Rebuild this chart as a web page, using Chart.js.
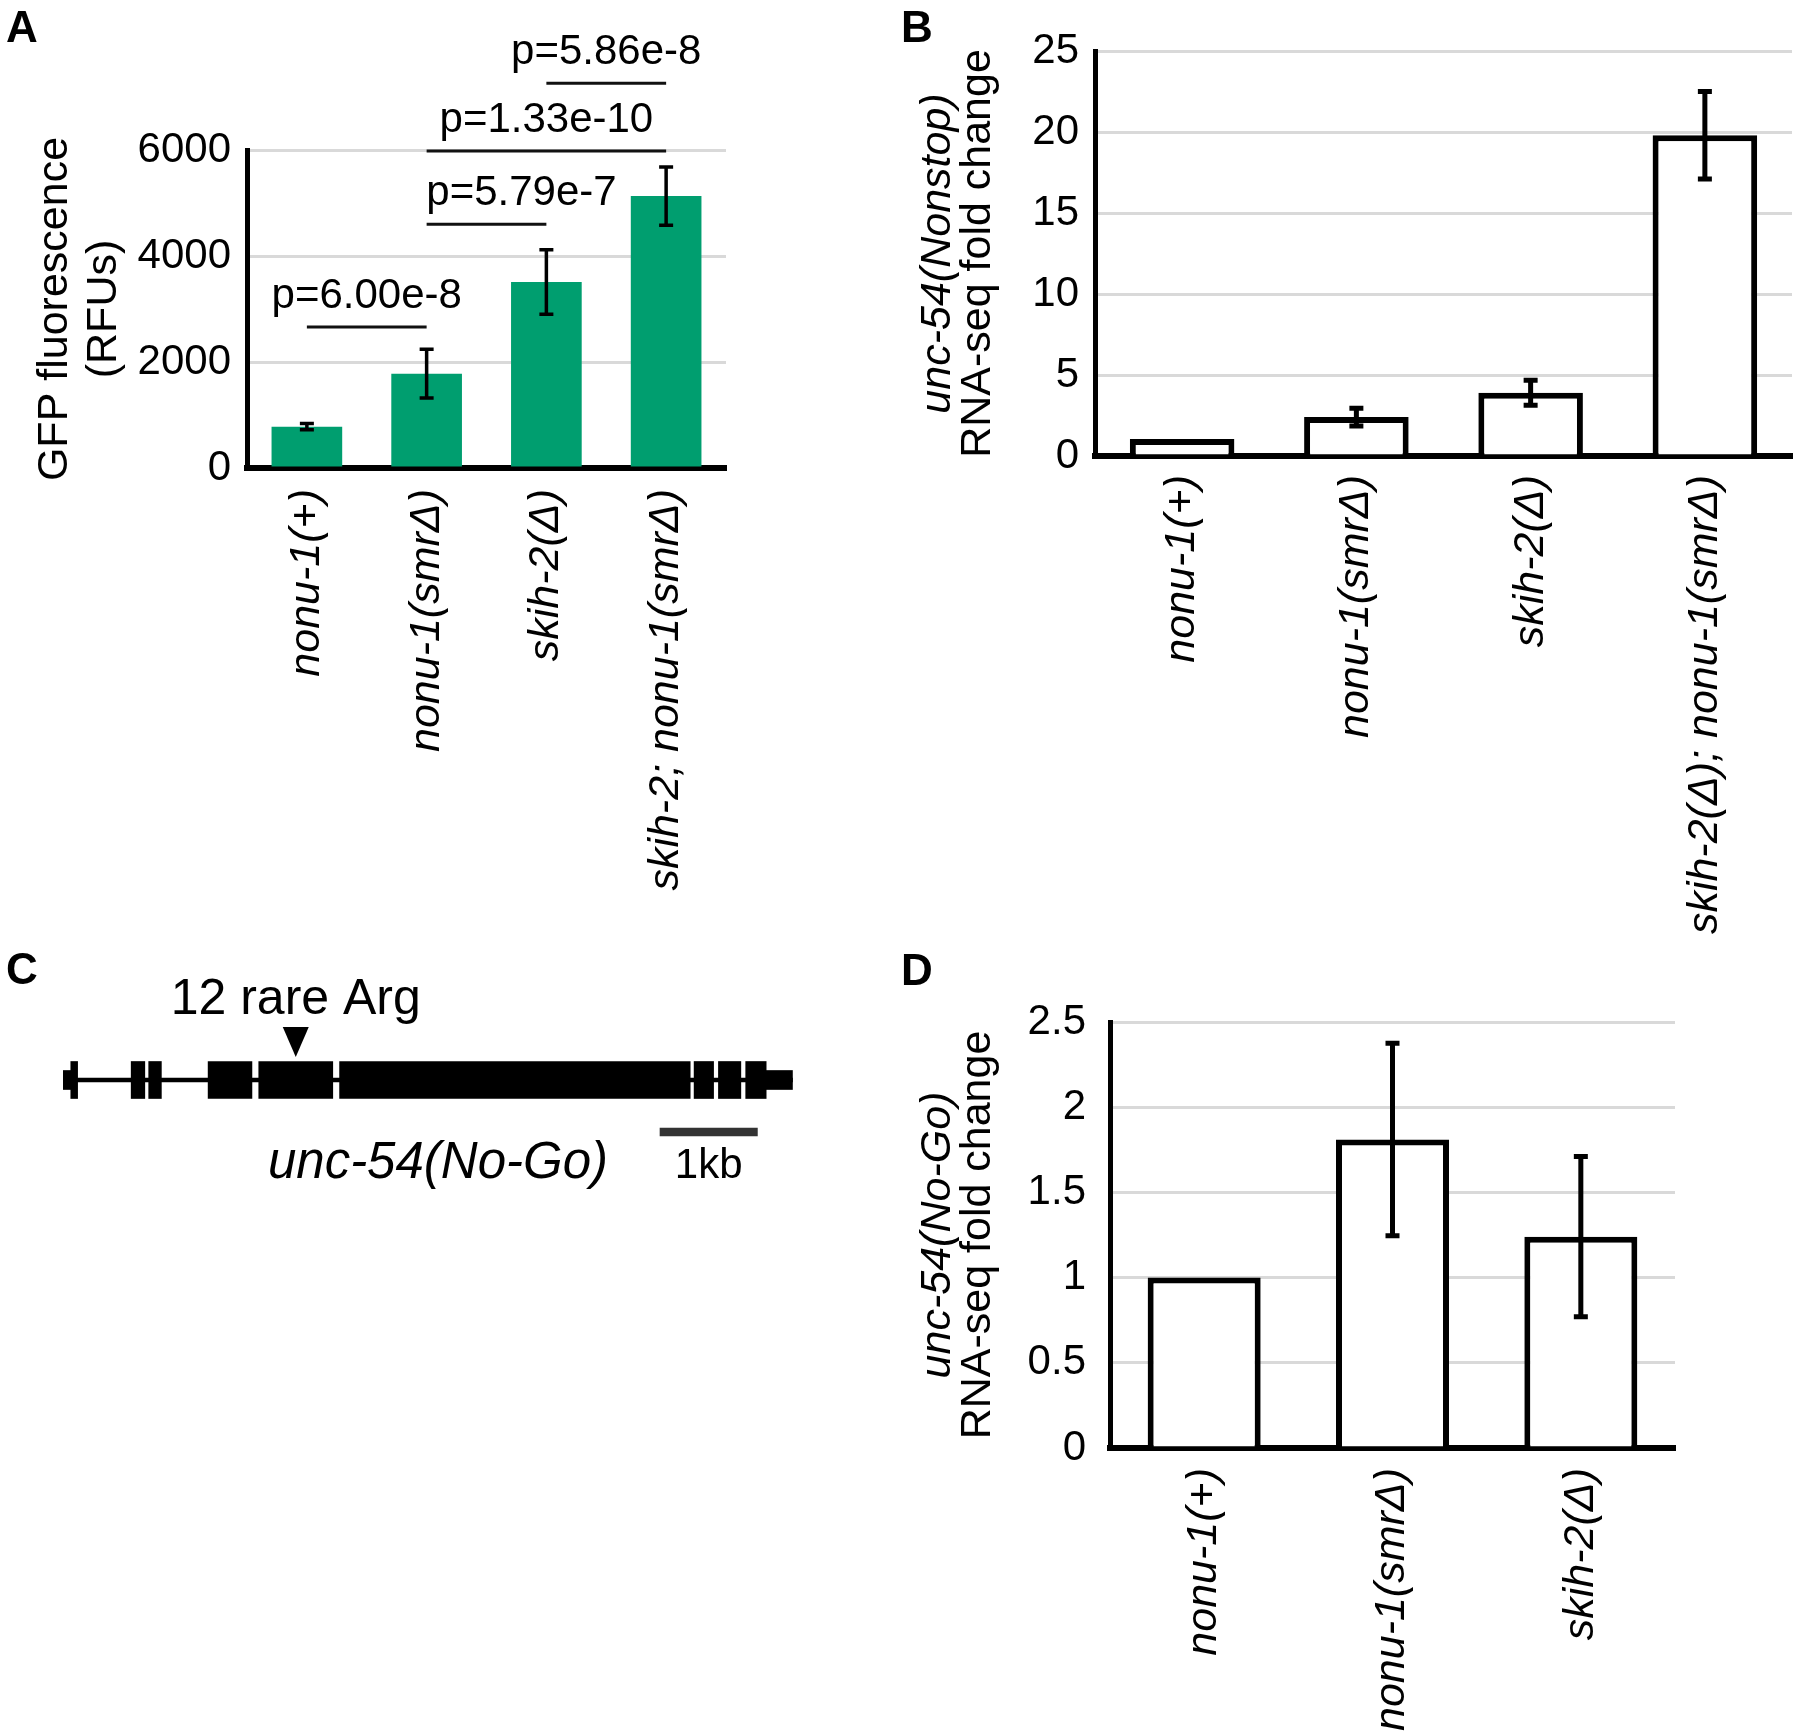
<!DOCTYPE html>
<html>
<head>
<meta charset="utf-8">
<script src="https://cdn.jsdelivr.net/npm/chart.js@4.4.1/dist/chart.umd.min.js"></script>
<style>
  body { margin: 0; background: #fff; width: 1800px; height: 1733px; position: relative; overflow: hidden; }
  canvas { position: absolute; }
</style>
</head>
<body>
<canvas id="gfp" width="760" height="940" style="left:0;top:0;width:760px;height:940px"></canvas>
<canvas id="nonstop" width="920" height="950" style="left:880px;top:0;width:920px;height:950px"></canvas>
<canvas id="gene" width="860" height="260" style="left:0;top:940px;width:860px;height:260px"></canvas>
<canvas id="nogo" width="920" height="783" style="left:880px;top:950px;width:920px;height:783px"></canvas>
<script>
// panel A - GFP reporter
const strainsA = ['nonu-1(+)', 'nonu-1(smrΔ)', 'skih-2(Δ)', 'skih-2; nonu-1(smrΔ)'];
const gfpMean = [780, 1780, 3510, 5130];
const gfpErr = [60, 460, 610, 550];
const pText = ['p=6.00e-8', 'p=5.79e-7', 'p=1.33e-10', 'p=5.86e-8'];
const pFrom = [0, 1, 1, 2];
const pTo = [1, 2, 3, 3];
const pLevel = [2660, 4600, 5980, 7260];

// panel B - Nonstop RNA-seq
const strainsB = ['nonu-1(+)', 'nonu-1(smrΔ)', 'skih-2(Δ)', 'skih-2(Δ); nonu-1(smrΔ)'];
const nonstopMean = [1.05, 2.4, 3.9, 19.8];
const nonstopErr = [0, 0.55, 0.77, 2.7];

// panel D - No-Go RNA-seq
const strainsD = ['nonu-1(+)', 'nonu-1(smrΔ)', 'skih-2(Δ)'];
const nogoMean = [1.0, 1.81, 1.24];
const nogoErr = [0, 0.565, 0.47];

// panel C - unc-54 gene model, in kb from the 5' end
const exonStart = [0.08, 0.70, 0.88, 1.49, 2.01, 2.84, 6.48, 6.73, 7.01];
const exonEnd = [0.15, 0.84, 1.01, 1.94, 2.77, 6.44, 6.68, 6.96, 7.22];
const utrStart = [0, 7.22];
const utrEnd = [0.08, 7.49];
const geneLength = 7.49;
const argSite = 2.39;
const scaleBar = [6.13, 7.13];

Chart.defaults.font.family = '"Liberation Sans", Arial, sans-serif';
Chart.defaults.color = '#000';

const FONT = '"Liberation Sans", Arial, sans-serif';

// error bars on dataset 0
const errorBars = {
  id: 'errorBars',
  afterDatasetsDraw(chart, args, opts) {
    const ctx = chart.ctx, y = chart.scales.y;
    const vals = chart.data.datasets[0].data;
    ctx.save();
    ctx.strokeStyle = '#000';
    ctx.lineWidth = opts.width;
    chart.getDatasetMeta(0).data.forEach((bar, i) => {
      const e = opts.errors[i];
      if (!e) return;
      const t = y.getPixelForValue(vals[i] + e), b = y.getPixelForValue(vals[i] - e);
      ctx.beginPath();
      ctx.moveTo(bar.x, t); ctx.lineTo(bar.x, b);
      ctx.moveTo(bar.x - opts.cap, t); ctx.lineTo(bar.x + opts.cap, t);
      ctx.moveTo(bar.x - opts.cap, b); ctx.lineTo(bar.x + opts.cap, b);
      ctx.stroke();
    });
    ctx.restore();
  }
};

// rotated y titles + panel letter
const sideText = {
  id: 'sideText',
  afterDraw(chart, args, opts) {
    const ctx = chart.ctx, a = chart.chartArea;
    ctx.save();
    ctx.fillStyle = '#000';
    opts.titles.forEach(t => {
      ctx.save();
      ctx.translate(t.x, (a.top + a.bottom) / 2);
      ctx.rotate(-Math.PI / 2);
      ctx.font = t.font;
      ctx.textAlign = 'center';
      ctx.textBaseline = 'middle';
      ctx.fillText(t.text, 0, 0);
      ctx.restore();
    });
    ctx.font = 'bold 44px ' + FONT;
    ctx.textAlign = 'left';
    ctx.textBaseline = 'alphabetic';
    ctx.fillText(opts.letter, opts.lx, opts.ly);
    ctx.restore();
  }
};

// significance brackets for panel A
const brackets = {
  id: 'brackets',
  afterDraw(chart) {
    const ctx = chart.ctx, x = chart.scales.x, y = chart.scales.y;
    const shift = [0, 35, 0, 0];
    ctx.save();
    ctx.strokeStyle = '#111';
    ctx.lineWidth = 3;
    ctx.fillStyle = '#000';
    ctx.font = '42px ' + FONT;
    ctx.textAlign = 'center';
    pText.forEach((txt, i) => {
      const x1 = x.getPixelForValue(pFrom[i]), x2 = x.getPixelForValue(pTo[i]);
      const yy = y.getPixelForValue(pLevel[i]);
      ctx.beginPath();
      ctx.moveTo(x1, yy); ctx.lineTo(x2, yy);
      ctx.stroke();
      ctx.fillText(txt, (x1 + x2) / 2 + shift[i], yy - 19);
    });
    ctx.restore();
  }
};

function barPanel(id, labels, values, errs, o) {
  new Chart(id, {
    type: 'bar',
    data: {
      labels: labels,
      datasets: [{
        data: values,
        backgroundColor: o.fill,
        borderColor: '#000',
        borderWidth: o.border,
        borderSkipped: 'start',
        barPercentage: o.barPct,
        categoryPercentage: 1
      }]
    },
    options: {
      responsive: false,
      animation: false,
      devicePixelRatio: 1,
      layout: { padding: { left: 0, top: o.top, right: o.right, bottom: 0 } },
      plugins: {
        legend: { display: false },
        tooltip: { enabled: false },
        errorBars: { errors: errs, width: o.errW, cap: 7 },
        sideText: { titles: o.titles, letter: o.letter, lx: o.lx, ly: o.ly }
      },
      scales: {
        x: {
          grid: { display: false },
          border: { color: '#000', width: 6 },
          ticks: {
            autoSkip: false, minRotation: 90, maxRotation: 90, padding: o.xPad,
            font: { size: 43, style: 'italic' }, color: '#000'
          },
          afterFit: s => { s.height = o.xHeight; }
        },
        y: {
          min: 0, max: o.max,
          grid: { color: '#d9d9d9', lineWidth: 3, drawTicks: false },
          border: { color: '#000', width: 5 },
          ticks: {
            stepSize: o.step, padding: o.yPad, font: { size: 42 }, color: '#000',
            callback: o.tickFmt
          },
          afterFit: s => { s.width = o.yWidth; }
        }
      }
    },
    plugins: o.extra ? [errorBars, sideText, o.extra] : [errorBars, sideText]
  });
}

barPanel('gfp', strainsA, gfpMean, gfpErr, {
  fill: '#009e6f', border: 0, barPct: 0.59, errW: 3.5,
  top: 150, right: 34, xHeight: 472, yWidth: 247, xPad: 13, yPad: 16,
  max: 6000, step: 1000, tickFmt: v => (v % 2000 === 0 ? String(v) : ''),
  titles: [
    { text: 'GFP fluorescence', x: 55, font: '43px ' + FONT },
    { text: '(RFUs)', x: 104, font: '43px ' + FONT }
  ],
  letter: 'A', lx: 6, ly: 42, extra: brackets
});

barPanel('nonstop', strainsB, nonstopMean, nonstopErr, {
  fill: '#fff', border: 6, barPct: 0.6, errW: 5,
  top: 51, right: 8, xHeight: 494, yWidth: 215, xPad: 11, yPad: 16,
  max: 25, step: 5, tickFmt: v => String(v),
  titles: [
    { text: 'unc-54(Nonstop)', x: 58, font: 'italic 43px ' + FONT },
    { text: 'RNA-seq fold change', x: 98, font: '43px ' + FONT }
  ],
  letter: 'B', lx: 21, ly: 42
});

barPanel('nogo', strainsD, nogoMean, nogoErr, {
  fill: '#fff', border: 6, barPct: 0.6, errW: 5,
  top: 72, right: 125, xHeight: 285, yWidth: 230, xPad: 12, yPad: 24,
  max: 2.5, step: 0.5, tickFmt: v => String(v),
  titles: [
    { text: 'unc-54(No-Go)', x: 58, font: 'italic 43px ' + FONT },
    { text: 'RNA-seq fold change', x: 98, font: '43px ' + FONT }
  ],
  letter: 'D', lx: 21, ly: 35
});

// panel C text, arrow head, letter
const geneNotes = {
  id: 'geneNotes',
  afterDraw(chart) {
    const ctx = chart.ctx, x = chart.scales.x, y = chart.scales.y;
    const gy = y.getPixelForValue(0), sy = y.getPixelForValue(1);
    const ax = x.getPixelForValue(argSite);
    ctx.save();
    ctx.fillStyle = '#000';
    ctx.beginPath();
    ctx.moveTo(ax - 13, gy - 53);
    ctx.lineTo(ax + 13, gy - 53);
    ctx.lineTo(ax, gy - 23);
    ctx.closePath();
    ctx.fill();
    ctx.textAlign = 'center';
    ctx.font = '50px ' + FONT;
    ctx.fillText('12 rare Arg', ax, gy - 66);
    ctx.font = 'italic 51px ' + FONT;
    ctx.fillText('unc-54(No-Go)', x.getPixelForValue(3.85), sy + 46);
    ctx.font = '42px ' + FONT;
    ctx.fillText('1kb', x.getPixelForValue((scaleBar[0] + scaleBar[1]) / 2), sy + 46);
    ctx.textAlign = 'left';
    ctx.font = 'bold 44px ' + FONT;
    ctx.fillText('C', 6, 44);
    ctx.restore();
  }
};

new Chart('gene', {
  type: 'bar',
  data: {
    labels: ['gene', 'scale'],
    datasets: [
      { data: [{ y: 'gene', x: [0, geneLength] }], barThickness: 4, backgroundColor: '#000', grouped: false },
      { data: exonStart.map((s, i) => ({ y: 'gene', x: [s, exonEnd[i]] })), barThickness: 37, backgroundColor: '#000', grouped: false },
      { data: utrStart.map((s, i) => ({ y: 'gene', x: [s, utrEnd[i]] })), barThickness: 19, backgroundColor: '#000', grouped: false },
      { data: [{ y: 'scale', x: scaleBar }], barThickness: 8, backgroundColor: '#333', grouped: false }
    ]
  },
  options: {
    indexAxis: 'y',
    responsive: false,
    animation: false,
    devicePixelRatio: 1,
    layout: { padding: { left: 63, right: 13, top: 114, bottom: 42 } },
    plugins: { legend: { display: false }, tooltip: { enabled: false } },
    scales: {
      x: { type: 'linear', min: 0, max: 8.05, display: false },
      y: { type: 'category', offset: true, display: false }
    }
  },
  plugins: [geneNotes]
});
</script>
</body>
</html>
